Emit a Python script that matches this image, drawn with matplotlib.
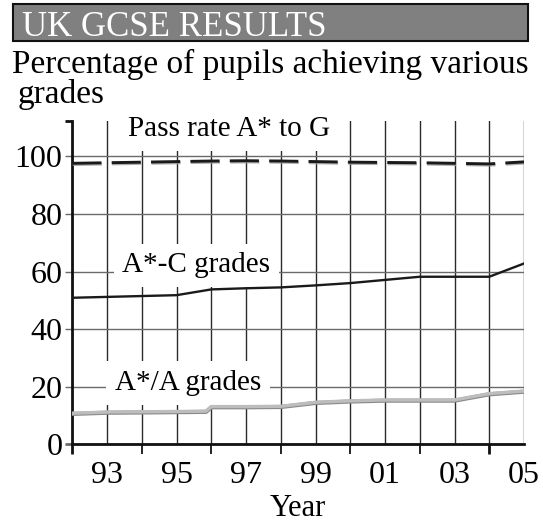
import matplotlib
matplotlib.use('Agg')
import matplotlib.pyplot as plt
import matplotlib.patheffects as pe
from matplotlib.patches import Rectangle

plt.rcParams['font.family'] = ['Liberation Serif', 'DejaVu Serif']

# data
years = [1992, 1993, 1994, 1995, 1996, 1997, 1998, 1999, 2000, 2001, 2002, 2003, 2004, 2005]
pass_rate = [97.6, 97.8, 98.0, 98.2, 98.4, 98.5, 98.4, 98.2, 98.0, 97.9, 97.8, 97.6, 97.4, 98.1]
grades_ac = [50.9, 51.2, 51.5, 51.8, 53.8, 54.2, 54.5, 55.2, 56.0, 57.1, 58.2, 58.2, 58.2, 62.8]
years_aa = [1992, 1993, 1994, 1995, 1995.85, 1996, 1997, 1998, 1999, 2000, 2001, 2002, 2003, 2004, 2005]
grades_aa = [10.8, 11.2, 11.3, 11.4, 11.5, 13.1, 13.1, 13.2, 14.6, 15.1, 15.4, 15.4, 15.4, 17.6, 18.5]

label_years = [1993, 1995, 1997, 1999, 2001, 2003, 2005]
label_text = ['93', '95', '97', '99', '01', '03', '05']
minor_years = [1992, 1994, 1996, 1998, 2000, 2002, 2004, 2005]
y_ticks = [0, 20, 40, 60, 80, 100]

fig = plt.figure(figsize=(5.43, 5.25), dpi=100)

# header bar
fig.add_artist(Rectangle((13/543, 1-41/525), 515/543, 37/525, transform=fig.transFigure,
                         facecolor='#808080', edgecolor='#111111', lw=1.5))
fig.text(22/543, 1-36/525, 'UK GCSE RESULTS', color='white', fontsize=25, va='baseline')
fig.text(12/543, 1-73/525, 'Percentage of pupils achieving various', fontsize=24, va='baseline')
fig.text(18/543, 1-103/525, 'grades', fontsize=24, va='baseline')

ax = fig.add_axes([72.3/543, 1-444.3/525, (524-72.3)/543, (444.3-121)/525])
ax.set_xlim(1992, 2005)
ax.set_ylim(0, 112.3)

# grid
ax.set_xticks(label_years)
ax.set_xticklabels(label_text)
ax.set_xticks(minor_years, minor=True)
ax.set_yticks(y_ticks)
ax.set_yticks([112.3], minor=True)
ax.grid(True, axis='x', which='both', color='#2a2a2a', lw=1.0)
ax.grid(True, axis='y', which='major', color='#6a6a6a', lw=1.0)
ax.set_axisbelow(True)

for s in ['top', 'right']:
    ax.spines[s].set_visible(False)
for s in ['left', 'bottom']:
    ax.spines[s].set_linewidth(2.0)
    ax.spines[s].set_color('#111111')

ax.tick_params(axis='x', which='major', length=0, pad=12, labelsize=23)
ax.tick_params(axis='x', which='minor', length=7.5, width=1.3, color='#111111', direction='out')
ax.tick_params(axis='y', which='major', length=5, width=1.0, color='#6a6a6a', pad=2, labelsize=23)
ax.tick_params(axis='y', which='minor', length=5, width=2.0, color='#111111')
ax.yaxis.get_major_ticks()[0].tick1line.set_color('#111111')
ax.yaxis.get_major_ticks()[0].tick1line.set_markeredgewidth(2.0)
ax.xaxis.get_minor_ticks()[0].tick1line.set_markeredgewidth(2.0)
ax.xaxis.get_minor_ticks()[-1].tick1line.set_markeredgewidth(2.0)

ax.set_xlabel('Year', fontsize=22, labelpad=3)

# series labels on white boxes
box = dict(facecolor='white', edgecolor='none', boxstyle='square,pad=0.3')
ax.text(1996.5, 107.0, 'Pass rate A* to G', fontsize=21, ha='center', va='baseline', bbox=box, zorder=2)
ax.text(1995.57, 59.7, 'A*-C grades', fontsize=21, ha='center', va='baseline', bbox=box, zorder=2)
ax.text(1995.34, 18.8, 'A*/A grades', fontsize=21, ha='center', va='baseline', bbox=box, zorder=2)

# lines
ax.plot(years, pass_rate, color='#1a1a1a', lw=2.1, dashes=(10, 3.5), zorder=4,
        path_effects=[pe.SimpleLineShadow(offset=(0.3, -0.9), shadow_color='#999999', alpha=0.8),
                      pe.Normal()])
ax.plot(years, grades_ac, color='#1a1a1a', lw=1.7, zorder=4)
ax.plot(years_aa, grades_aa, color='#bdbdbd', lw=2.4, zorder=4,
        path_effects=[pe.Stroke(linewidth=3.0, foreground='#8a8a8a', offset=(0, -0.5)), pe.Normal()])

fig.savefig('out.png', dpi=100)
